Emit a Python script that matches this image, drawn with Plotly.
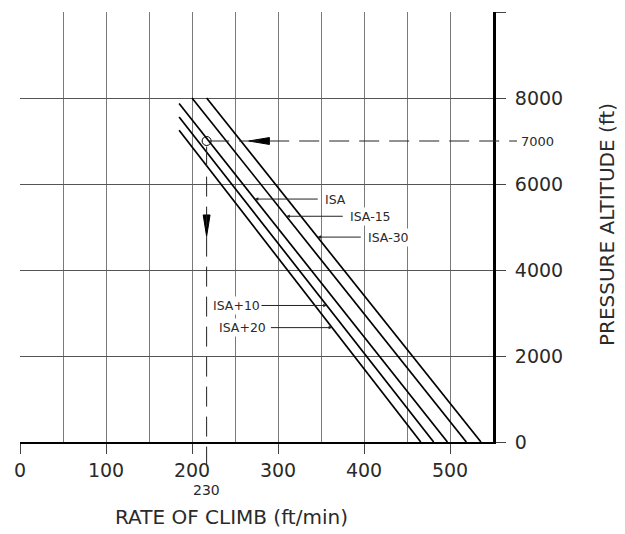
import plotly.graph_objects as go

# ---- data ----
rate_ticks = [0, 100, 200, 300, 400, 500]
alt_ticks = [0, 2000, 4000, 6000, 8000, 10000]
alt_tick_text = ["0", "2000", "4000", "6000", "8000", ""]

series_names = ["ISA+20", "ISA+10", "ISA", "ISA-15", "ISA-30"]
top_roc = [185, 185, 185, 200, 217]        # ft/min at upper end of each line
top_alt = [7250, 7560, 7870, 8000, 8000]   # ft at upper end
sl_roc = [466, 481, 497, 519, 536]         # ft/min at 0 ft

# label placement: altitude of leader, x of leader tail, x of text, anchor
label_alt = [2660, 3175, 5650, 5250, 4765]
label_tail = [290, 275, 348, 377, 398]
label_text_x = [288, 222, 352, 381, 402]
label_anchor = ["right", "left", "left", "left", "left"]

example_alt = 7000
example_roc = 217
example_roc_text = "230"
example_alt_text = "7000"
arrow_left_tip, arrow_left_base = 266, 290
arrow_down_tip, arrow_down_base = 4780, 5280

FONT = "DejaVu Sans, sans-serif"
TXT = "#2a2a2a"
GRID = "#7a7a7a"

# page body has an 8px margin: plot area placed so the photographed view matches
W, H = 617, 526
ML, MT, PW, PH = 12, 4, 473, 430

fig = go.Figure()

for i, name in enumerate(series_names):
    fig.add_trace(go.Scatter(
        x=[top_roc[i], sl_roc[i]], y=[top_alt[i], 0], mode="lines",
        line=dict(color="black", width=1.7), name=name, hoverinfo="name"))

# leaders and labels
for i, name in enumerate(series_names):
    x_on = top_roc[i] + (top_alt[i] - label_alt[i]) / top_alt[i] * (sl_roc[i] - top_roc[i])
    fig.add_annotation(x=x_on, y=label_alt[i], ax=label_tail[i], ay=label_alt[i],
                       axref="x", ayref="y", xref="x", yref="y", text="",
                       showarrow=True, arrowhead=2, arrowsize=0.7, arrowwidth=1,
                       arrowcolor="#222")
    fig.add_annotation(x=label_text_x[i], y=label_alt[i], xref="x", yref="y",
                       text=name, showarrow=False, xanchor=label_anchor[i],
                       yanchor="middle", font=dict(family=FONT, size=12.5, color=TXT),
                       bgcolor="white", borderpad=1)

# example path: dashed lines
fig.add_shape(type="line", xref="paper", yref="y",
              x0=(example_roc + 3) / 550, x1=1 + 24 / PW, y0=example_alt, y1=example_alt,
              line=dict(color="#222", width=1, dash="20px,10px"))
fig.add_shape(type="line", xref="x", yref="paper",
              x0=example_roc, x1=example_roc, y0=(example_alt - 130) / 10000, y1=-22 / PH,
              line=dict(color="#222", width=1, dash="20px,10px"))

# arrowheads
hw_x, hw_y = 4, 80
fig.add_trace(go.Scatter(
    x=[arrow_left_tip, arrow_left_base, arrow_left_base, arrow_left_tip],
    y=[example_alt, example_alt + hw_y, example_alt - hw_y, example_alt],
    fill="toself", fillcolor="black", mode="lines", line=dict(color="black", width=1),
    hoverinfo="skip"))
fig.add_trace(go.Scatter(
    x=[example_roc, example_roc - hw_x, example_roc + hw_x, example_roc],
    y=[arrow_down_tip, arrow_down_base, arrow_down_base, arrow_down_tip],
    fill="toself", fillcolor="black", mode="lines", line=dict(color="black", width=1),
    hoverinfo="skip"))

# example point circle
fig.add_trace(go.Scatter(x=[example_roc], y=[example_alt], mode="markers",
                         marker=dict(symbol="circle-open", size=9, color="black",
                                     line=dict(color="black", width=1)),
                         hoverinfo="skip"))

# extra labels
fig.add_annotation(x=1 + 26 / PW, y=example_alt, xref="paper", yref="y",
                   text=example_alt_text, showarrow=False, xanchor="left",
                   yanchor="middle", font=dict(family=FONT, size=13, color=TXT))
fig.add_annotation(x=example_roc, y=-48 / PH, xref="x", yref="paper",
                   text=example_roc_text, showarrow=False, xanchor="center",
                   yanchor="middle", font=dict(family=FONT, size=14, color=TXT))
fig.add_annotation(x=(231 - 20) / PW, y=-(517 - 442) / PH, xref="paper", yref="paper",
                   text="RATE OF CLIMB (ft/min)", showarrow=False,
                   xanchor="center", yanchor="middle",
                   font=dict(family=FONT, size=20, color=TXT))
fig.add_annotation(x=(607 - 20) / PW, y=(442 - 225) / PH, xref="paper", yref="paper",
                   text="PRESSURE ALTITUDE (ft)", showarrow=False, textangle=-90,
                   xanchor="center", yanchor="middle",
                   font=dict(family=FONT, size=20, color=TXT))

fig.update_layout(
    width=W, height=H, margin=dict(l=ML, r=W - ML - PW, t=MT, b=H - MT - PH),
    plot_bgcolor="white", paper_bgcolor="white", showlegend=False,
    xaxis=dict(range=[0, 550], tickvals=rate_ticks, ticks="outside", ticklen=10,
               tickcolor="#444", tickwidth=1, showgrid=True, gridcolor=GRID,
               gridwidth=1, minor=dict(dtick=50, tick0=0, showgrid=True,
                                       gridcolor=GRID, gridwidth=1),
               showline=True, linecolor="black", linewidth=2, zeroline=False,
               tickfont=dict(family=FONT, size=19, color=TXT), fixedrange=True,
               automargin=False),
    yaxis=dict(range=[0, 10000], side="right", tickvals=alt_ticks, ticktext=alt_tick_text,
               ticks="outside", ticklen=10, tickcolor="#444", tickwidth=1,
               showgrid=True, gridcolor="#555", gridwidth=1, showline=True,
               linecolor="black", linewidth=3, zeroline=False, ticklabelstandoff=5,
               tickfont=dict(family=FONT, size=19, color=TXT), fixedrange=True,
               automargin=False),
)

fig.write_html("out.html")
